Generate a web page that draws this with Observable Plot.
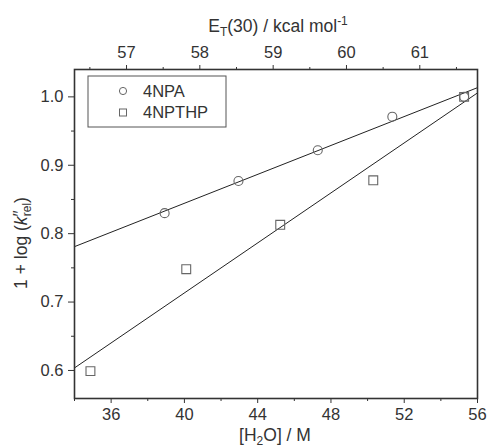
<!DOCTYPE html>
<html><head><meta charset="utf-8">
<script src="https://cdn.jsdelivr.net/npm/d3@7"></script>
<script src="https://cdn.jsdelivr.net/npm/@observablehq/plot@0.6"></script>
<style>body{margin:0;background:#fff;overflow:hidden} svg{display:block}</style>
</head><body><div id="chart"></div>
<script>
// ---- data ----
const npaH2O   = [38.92, 42.95, 47.28, 51.35, 55.27];
const npaLogK  = [0.830, 0.877, 0.922, 0.971, 1.000];
const thpH2O   = [34.87, 40.10, 45.23, 50.31, 55.27];
const thpLogK  = [0.599, 0.748, 0.813, 0.878, 1.000];
const seriesNames = ["4NPA", "4NPTHP"];
const xTicks      = [36, 40, 44, 48, 52, 56];
const xMinorTicks = [34, 38, 42, 46, 50, 54];
const yTicks      = [0.6, 0.7, 0.8, 0.9, 1.0];
const yMinorTicks = [0.65, 0.75, 0.85, 0.95];
const etTicks      = [57, 58, 59, 60, 61];
const etMinorTicks = [56.5, 57.5, 58.5, 59.5, 60.5, 61.5];
// E_T(30) <-> [H2O] correspondence of the top axis (two points)
const etRef  = [57, 61];
const h2oRef = [36.84, 52.85];
const xDomain = [34, 56];
const yDomain = [0.559, 1.040];

// ---- helpers ----
const etToH2O = d3.scaleLinear().domain(etRef).range(h2oRef);
function fitLine(xs, ys) {
  const mx = d3.mean(xs), my = d3.mean(ys);
  let sxy = 0, sxx = 0;
  xs.forEach((x, i) => { sxy += (x - mx) * (ys[i] - my); sxx += (x - mx) ** 2; });
  const b = sxy / sxx;
  return xDomain.map(x => ({x, y: my + b * (x - mx)}));
}
const npa = npaH2O.map((x, i) => ({x, y: npaLogK[i]}));
const thp = thpH2O.map((x, i) => ({x, y: thpLogK[i]}));
const npaFit = fitLine(npaH2O, npaLogK);
const thpFit = fitLine(thpH2O, thpLogK);

const ink = "#333";
const markerStroke = "#666";
const fs = 16.5;
const tfs = 17.5;

const chart = Plot.plot({
  width: 487, height: 447,
  marginLeft: 74, marginRight: 10, marginTop: 69, marginBottom: 49,
  x: {domain: xDomain},
  y: {domain: yDomain},
  style: {fontFamily: "'Liberation Sans', Arial, sans-serif", fontSize: fs + "px", color: ink, background: "#fff"},
  marks: [
    Plot.axisX(xTicks, {anchor: "bottom", tickSize: 5, tickPadding: 5, fontSize: fs, label: null}),
    Plot.axisX(xMinorTicks, {anchor: "bottom", tickSize: 3, tickFormat: () => "", label: null}),
    Plot.axisX(etTicks.map(etToH2O), {anchor: "top", tickSize: 5, tickPadding: 7, fontSize: fs, tickFormat: d => String(Math.round(etToH2O.invert(d))), label: null}),
    Plot.axisX(etMinorTicks.map(etToH2O), {anchor: "top", tickSize: 3, tickFormat: () => "", label: null}),
    Plot.axisY(yTicks, {anchor: "left", tickSize: 6, tickPadding: 5, fontSize: fs, tickFormat: d => d.toFixed(1), label: null}),
    Plot.axisY(yMinorTicks, {anchor: "left", tickSize: 3, tickFormat: () => "", label: null}),
    Plot.line(npaFit, {x: "x", y: "y", stroke: "#222", strokeWidth: 1}),
    Plot.line(thpFit, {x: "x", y: "y", stroke: "#222", strokeWidth: 1}),
    Plot.dot(npa, {x: "x", y: "y", symbol: "circle", r: 4.5, stroke: markerStroke, strokeWidth: 1.1, fill: "none"}),
    Plot.dot(thp, {x: "x", y: "y", symbol: "square", r: 5, stroke: markerStroke, strokeWidth: 1.1, fill: "none"}),
    Plot.frame({stroke: ink, strokeWidth: 1.6})
  ]
});

const svg = d3.select(chart);
const ff = "'Liberation Sans', Arial, sans-serif";
// top title
const tt = svg.append("text").attr("x", 278).attr("y", 32).attr("text-anchor", "middle")
  .attr("font-family", ff).attr("font-size", tfs).attr("fill", ink);
tt.append("tspan").text("E");
tt.append("tspan").attr("dy", 4).attr("font-size", 12).text("T");
tt.append("tspan").attr("dy", -4).text("(30) / kcal mol");
tt.append("tspan").attr("dy", -7).attr("font-size", 12).text("-1");
// bottom title
const bt = svg.append("text").attr("x", 275).attr("y", 441).attr("text-anchor", "middle")
  .attr("font-family", ff).attr("font-size", tfs).attr("fill", ink);
bt.append("tspan").text("[H");
bt.append("tspan").attr("dy", 4).attr("font-size", 12).text("2");
bt.append("tspan").attr("dy", -4).text("O] / M");
// y title
const yt = svg.append("text").attr("transform", "translate(27,243) rotate(-90)").attr("text-anchor", "middle")
  .attr("font-family", ff).attr("font-size", tfs).attr("fill", ink);
yt.append("tspan").text("1 + log (");
yt.append("tspan").attr("font-style", "italic").text("k");
yt.append("tspan").attr("dy", -1).text("\u2033");
yt.append("tspan").attr("dy", 5).attr("dx", -6).attr("font-size", 12).text("rel");
yt.append("tspan").attr("dy", -4).text(")");
// legend
const lg = svg.append("g").attr("font-family", ff).attr("font-size", fs).attr("fill", ink).attr("text-anchor", "start");
lg.append("rect").attr("x", 88).attr("y", 76).attr("width", 138).attr("height", 51)
  .attr("fill", "#fff").attr("stroke", "#555").attr("stroke-width", 1);
seriesNames.forEach((name, i) => {
  const cy = 91 + i * 21.5;
  if (i === 0) lg.append("circle").attr("cx", 123).attr("cy", cy).attr("r", 3.6).attr("fill", "none").attr("stroke", markerStroke);
  else lg.append("rect").attr("x", 119.5).attr("y", cy - 3.5).attr("width", 7).attr("height", 7).attr("fill", "none").attr("stroke", markerStroke);
  lg.append("text").attr("x", 143).attr("y", cy).attr("dy", "0.36em").attr("text-anchor", "start").text(name);
});

document.getElementById("chart").appendChild(chart);
</script>
</body></html>
